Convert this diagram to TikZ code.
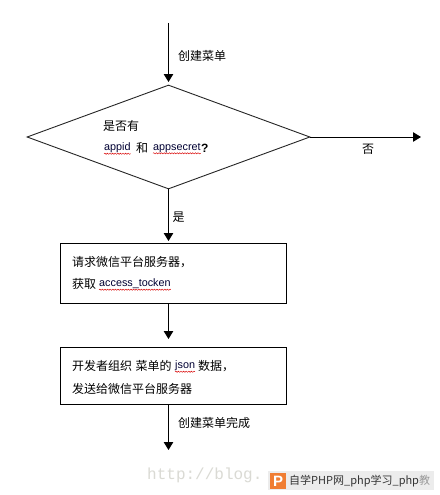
\documentclass[tikz,border=0pt]{standalone}
\usepackage{fontspec}
\setmainfont{Noto Sans CJK SC}
\newfontfamily\latinf{Liberation Sans}
\newfontfamily\wmf{Liberation Mono}
\usetikzlibrary{arrows.meta,shapes.geometric,decorations.pathmorphing}
\definecolor{logoorange}{RGB}{240,125,50}
\definecolor{wmgray}{RGB}{218,218,212}
\definecolor{barg}{RGB}{236,236,236}
\tikzset{
  conn/.style={draw=black,line width=1pt,-{Triangle[length=8pt,width=9.5pt]}},
  flowbox/.style={draw=black,line width=0.9pt,fill=white,rectangle,inner sep=0pt},
  decision/.style={draw=black!85,line width=0.9pt,diamond,inner sep=0pt,shape aspect=2.72,minimum width=283pt,minimum height=104pt},
  label/.style={inner sep=0pt,anchor=west,font=\fontsize{12}{12}\selectfont,text=black},
  spell/.style={draw=red!85!black,line width=0.45pt,decorate,decoration={snake,amplitude=0.6pt,segment length=2.6pt}},
  lat/.style={inner sep=0pt,anchor=west,font=\latinf\fontsize{10.8}{12}\selectfont,text=black!80!blue}
}
\begin{document}
\begin{tikzpicture}[x=1pt,y=-1pt]
\useasboundingbox[fill=white] (0,0) rectangle (439,495);
\node[decision] (dec) at (168.5,137) {};
\node[flowbox,minimum width=226pt,minimum height=60pt] (req) at (173,273.5) {};
\node[flowbox,minimum width=226pt,minimum height=57pt] (org) at (173,375.5) {};
\coordinate (start) at (168.5,23);
\coordinate (decin) at (168.5,82);
\coordinate (endno) at (421,137);
\coordinate (reqin) at (168.5,241);
\coordinate (reqout) at (dec.south |- req.south);
\coordinate (orgin) at (168.5,339);
\coordinate (orgout) at (dec.south |- org.south);
\coordinate (endall) at (168.5,450);
\draw[conn] (start) -- (decin);
\draw[conn] (dec.east) -- (endno);
\draw[conn] (dec.south) -- (reqin);
\draw[conn] (reqout) -- (orgin);
\draw[conn] (orgout) -- (endall);

\node[label] (l1) at (178,56) {创建菜单};
\node[label] (l2) at (103,126) {是否有};
\node[lat] (ap1) at (104,148) {appid};
\node[label] (l3) at (136,148) {和};
\node[lat] (ap2) at (153,148) {appsecret};
\node[label,font=\latinf\fontsize{12}{12}\selectfont\bfseries] (q) at (ap2.east) {?};
\node[label] (l4) at (362,149) {否};
\node[label] (l5) at (172.5,217) {是};
\node[label] (r1) at (72,262) {请求微信平台服务器，};
\node[label] (r2) at (72,284) {获取};
\node[lat] (r3) at (99,284) {access\_tocken};
\node[label] (o1) at (72,366) {开发者组织};
\node[label] (o2) at (135.5,366) {菜单的};
\node[lat] (o3) at (175,366) {json};
\node[label] (o4) at (198,366) {数据，};
\node[label] (o5) at (72,389) {发送给微信平台服务器};
\node[label] (l6) at (178,423) {创建菜单完成};

\draw[spell] ([yshift=-0.5pt]ap1.south west) -- ([yshift=-0.5pt]ap1.south east);
\draw[spell] ([yshift=-0.5pt]ap2.south west) -- ([yshift=-0.5pt]ap2.south east);
\draw[spell] ([yshift=-0.5pt]r3.south west) -- ([yshift=-0.5pt]r3.south east);
\draw[spell] ([yshift=-0.5pt]o3.south west) -- ([yshift=-0.5pt]o3.south east);

\node[inner sep=0pt,anchor=west,font=\wmf\fontsize{16}{16}\selectfont,text=wmgray] (wm) at (147,475) {http://blog.};
\node[fill=barg,inner sep=0pt,minimum width=166pt,minimum height=19pt,anchor=north west] (bar) at (268,471) {};
\node[fill=logoorange,inner sep=0pt,minimum size=16pt] (logo) at (278,481) {};
\node[inner sep=0pt,font=\latinf\bfseries\fontsize{15}{15}\selectfont,text=white] (logop) at (278,481) {P};
\node[inner sep=0pt,anchor=west,font=\fontsize{11}{11}\selectfont,text=black!80] (barText) at (289,481) {自学PHP网\_php学习\_php\textcolor{black!40}{教}};
\end{tikzpicture}
\end{document}
